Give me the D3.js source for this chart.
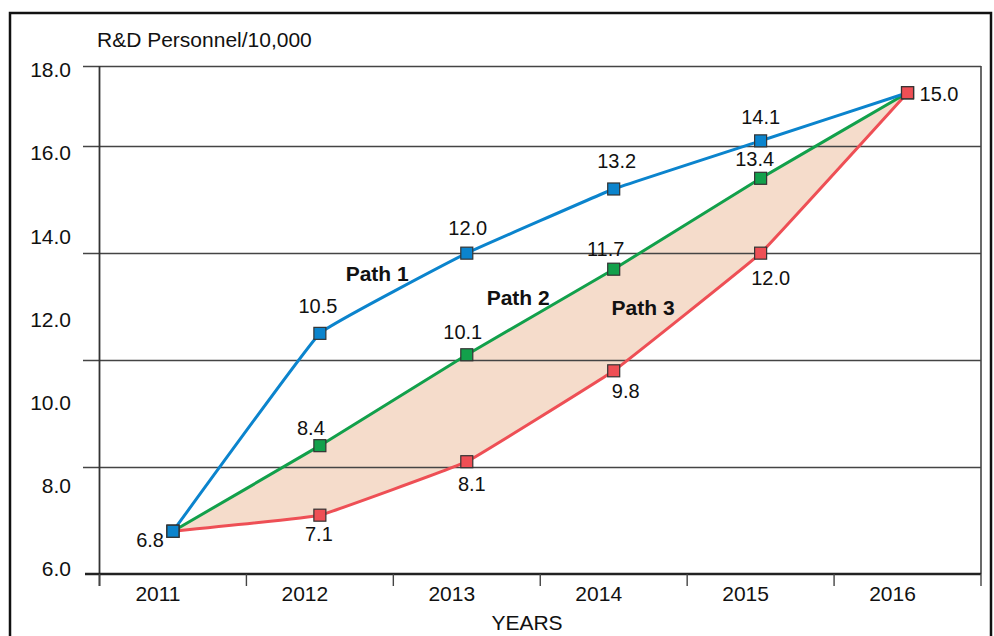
<!DOCTYPE html>
<html>
<head>
<meta charset="utf-8">
<script src="https://cdn.jsdelivr.net/npm/d3@7"></script>
<style>
  html, body { margin: 0; padding: 0; background: #fff; }
  svg { display: block; font-family: "Liberation Sans", Arial, sans-serif; }
</style>
</head>
<body>
<svg id="chart" width="994" height="636"></svg>
<script>
// ---- data ----
const years = ["2011", "2012", "2013", "2014", "2015", "2016"];
const path1 = [6.8, 10.5, 12.0, 13.2, 14.1, 15.0];
const path2 = [6.8, 8.4, 10.1, 11.7, 13.4, 15.0];
const path3 = [6.8, 7.1, 8.1, 9.8, 12.0, 15.0];
const yTickLabels = ["6.0", "8.0", "10.0", "12.0", "14.0", "16.0", "18.0"];
const gridValues = [6, 8, 10, 12, 14];
const pathNames = ["Path 1", "Path 2", "Path 3"];

// ---- layout ----
const svg = d3.select("#chart");
const plotLeft = 99.5, plotRight = 981, plotTop = 66, plotBottom = 574;

const x = d3.scaleBand().domain(years).range([plotLeft, plotRight]);
const y = d3.scaleLinear().domain([6, 15.5]).range([plotBottom, plotTop]);
const yLabel = d3.scalePoint().domain(yTickLabels).range([569, 70]);
const cx = d => x(d) + x.bandwidth() / 2;

const colors = { path1: "#0b84cd", path2: "#12a04b", path3: "#ee4f55" };
const seriesList = [
  { key: "path3", values: path3 },
  { key: "path2", values: path2 },
  { key: "path1", values: path1 }
];
const curve = d3.curveCardinal.tension(0.8);

// value label placement relative to each marker: [dx, dy, anchor] (null = no label)
const labelPlacement = {
  path1: [[-9, 9, "end"], [-2, -27, "middle"], [1, -25, "middle"], [3, -28, "middle"], [0, -24, "middle"], null],
  path2: [null, [-9, -18, "middle"], [-4, -23, "middle"], [-8, -20, "middle"], [-6, -19, "middle"], null],
  path3: [null, [-1, 19, "middle"], [5, 22, "middle"], [12, 20, "middle"], [10, 25, "middle"], [12, 1, "start"]]
};
// path name annotations anchored in data space: [year index + fraction, value]
const pathNamePos = [[1.39, 11.62], [2.35, 11.17], [3.2, 10.99]];

// outer frame
svg.append("rect")
  .attr("x", 10).attr("y", 13).attr("width", 981).attr("height", 700)
  .attr("fill", "none").attr("stroke", "#111").attr("stroke-width", 2.5);

// title
svg.append("text")
  .attr("x", 97).attr("y", 47)
  .attr("font-size", 21).attr("fill", "#111")
  .text("R&D Personnel/10,000");

// shaded band between path 2 and path 3
const area = d3.area()
  .x((d, i) => cx(years[i]))
  .y0((d, i) => y(path3[i]))
  .y1(d => y(d))
  .curve(curve);
svg.append("path")
  .attr("d", area(path2))
  .attr("fill", "#f5dccb");

// gridlines (with tick stubs left of the axis) and top border
svg.append("g").selectAll("line")
  .data(gridValues.slice(1).concat([y.domain()[1]]))
  .join("line")
  .attr("x1", 83).attr("x2", plotRight)
  .attr("y1", d => Math.round(y(d)) + 0.5).attr("y2", d => Math.round(y(d)) + 0.5)
  .attr("stroke", "#444").attr("stroke-width", 1.4);

// right border of plot
svg.append("line")
  .attr("x1", plotRight).attr("x2", plotRight).attr("y1", plotTop).attr("y2", plotBottom)
  .attr("stroke", "#444").attr("stroke-width", 1.6);

// left axis line
svg.append("line")
  .attr("x1", plotLeft).attr("x2", plotLeft).attr("y1", plotTop).attr("y2", 586)
  .attr("stroke", "#333").attr("stroke-width", 1.8);

// bottom axis line
svg.append("line")
  .attr("x1", 85).attr("x2", plotRight).attr("y1", plotBottom).attr("y2", plotBottom)
  .attr("stroke", "#222").attr("stroke-width", 2.6);

// x tick marks at band boundaries
svg.append("g").selectAll("line")
  .data(years.map(d => x(d)).concat([x.range()[1]]))
  .join("line")
  .attr("x1", d => d).attr("x2", d => d)
  .attr("y1", plotBottom).attr("y2", 586)
  .attr("stroke", "#444").attr("stroke-width", 1.4);

// y tick labels
const yAxis = svg.append("g")
  .attr("transform", "translate(71,0)")
  .call(d3.axisLeft(yLabel).tickSize(0).tickPadding(0));
yAxis.select(".domain").remove();
yAxis.selectAll("text")
  .attr("font-size", 21).attr("fill", "#111")
  .attr("font-family", "Liberation Sans, Arial, sans-serif");

// x tick labels
const xAxis = svg.append("g")
  .attr("transform", `translate(0,${plotBottom})`)
  .call(d3.axisBottom(x).tickSize(0).tickPadding(0));
xAxis.select(".domain").remove();
xAxis.selectAll("text")
  .attr("font-size", 21).attr("fill", "#111")
  .attr("font-family", "Liberation Sans, Arial, sans-serif")
  .attr("dx", -15).attr("y", 19).attr("dy", "0")
  .attr("dominant-baseline", "central");

// x axis title
svg.append("text")
  .attr("x", 527).attr("y", 622)
  .attr("text-anchor", "middle").attr("dominant-baseline", "central")
  .attr("font-size", 21).attr("fill", "#111")
  .text("YEARS");

// lines
const line = d3.line()
  .x((d, i) => cx(years[i]))
  .y(d => y(d))
  .curve(curve);
svg.append("g").selectAll("path")
  .data(seriesList)
  .join("path")
  .attr("d", s => line(s.values))
  .attr("fill", "none")
  .attr("stroke", s => colors[s.key])
  .attr("stroke-width", 3);

// markers: blue on top at the shared start, red on top at the shared end
const markers = [];
seriesList.forEach((s, si) => s.values.forEach((v, i) => markers.push({ key: s.key, i, v, si })));
const lastIdx = years.length - 1;
markers.sort((a, b) => {
  const za = a.i === lastIdx ? -a.si : a.si;
  const zb = b.i === lastIdx ? -b.si : b.si;
  return za - zb;
});
const ms = 12;
svg.append("g").selectAll("rect")
  .data(markers)
  .join("rect")
  .attr("x", d => cx(years[d.i]) - ms / 2)
  .attr("y", d => y(d.v) - ms / 2)
  .attr("width", ms).attr("height", ms)
  .attr("fill", d => colors[d.key])
  .attr("stroke", "#333").attr("stroke-width", 1.2);

// value labels
const labels = [];
seriesList.forEach(s => s.values.forEach((v, i) => {
  const p = labelPlacement[s.key][i];
  if (p) labels.push({ v, i, p });
}));
svg.append("g").selectAll("text")
  .data(labels)
  .join("text")
  .attr("x", d => cx(years[d.i]) + d.p[0])
  .attr("y", d => y(d.v) + d.p[1])
  .attr("text-anchor", d => d.p[2])
  .attr("dominant-baseline", "central")
  .attr("font-size", 20).attr("fill", "#111")
  .text(d => d.v.toFixed(1));

// path name annotations
svg.append("g").selectAll("text")
  .data(pathNames)
  .join("text")
  .attr("x", (d, i) => {
    const pos = pathNamePos[i][0];
    const k = Math.floor(pos);
    return cx(years[k]) + (pos - k) * x.bandwidth();
  })
  .attr("y", (d, i) => y(pathNamePos[i][1]))
  .attr("text-anchor", "middle").attr("dominant-baseline", "central")
  .attr("font-size", 21).attr("font-weight", "bold").attr("fill", "#111")
  .text(d => d);
</script>
</body>
</html>
